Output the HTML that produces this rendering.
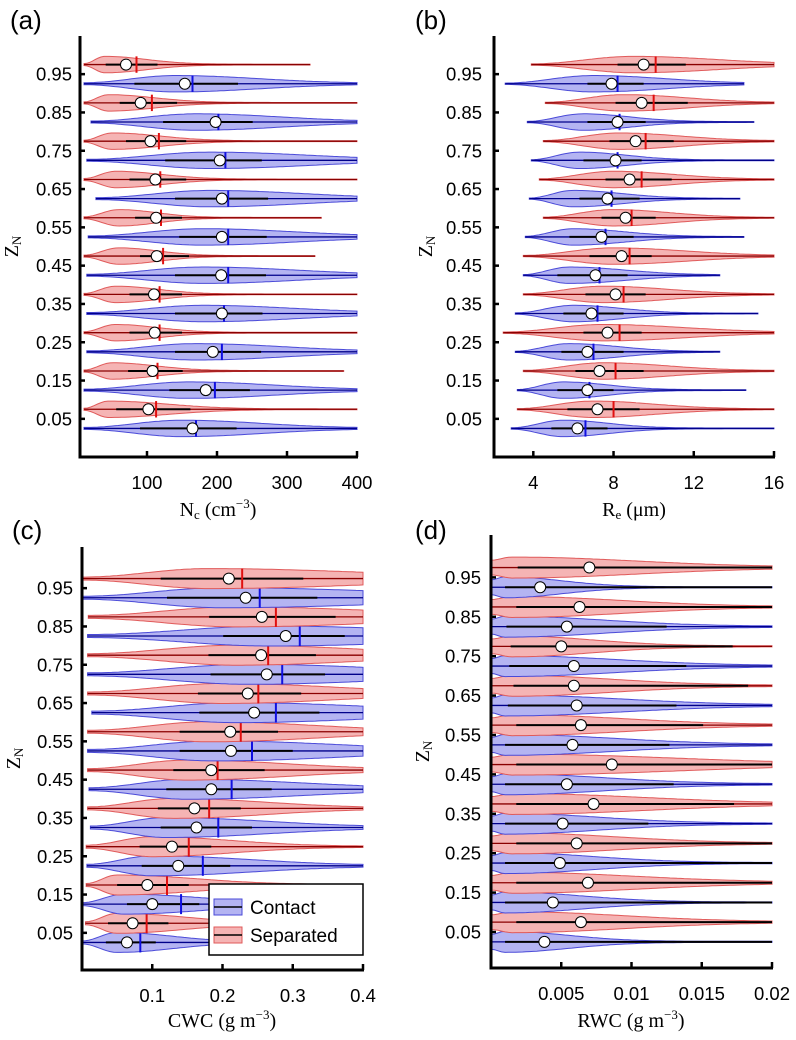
<!DOCTYPE html>
<html><head><meta charset="utf-8"><style>
html,body{margin:0;padding:0;background:#fff}
svg{display:block}
text{font-family:"Liberation Sans",Arial,sans-serif;fill:#000}
.tk{font-size:18.5px}
.ttl{font-family:"Liberation Serif",serif;font-size:20px}
.pl{font-size:26px}
</style></head><body>
<svg id="fig" width="796" height="1040" viewBox="0 0 796 1040"></svg>
<script>
// z-levels: index even = Contact, odd = Separated
const zLevels=[0.025,0.075,0.125,0.175,0.225,0.275,0.325,0.375,0.425,0.475,0.525,0.575,0.625,0.675,0.725,0.775,0.825,0.875,0.925,0.975];
const yTicks=[0.05,0.15,0.25,0.35,0.45,0.55,0.65,0.75,0.85,0.95];
const yTickLabels=["0.05","0.15","0.25","0.35","0.45","0.55","0.65","0.75","0.85","0.95"];
// Panel a: Nc
const aMin=[10,10,10,10,14,10,14,10,14,10,16,10,27,10,14,10,20,10,10,10];
const aQ1=[90,56,132,73,140,75,140,75,140,90,146,83,140,75,126,70,123,61,82,41];
const aMed=[170,113,197,115,207,118,210,118,216,123,216,120,216,119,212,117,202,107,165,85];
const aMean=[165,102,184,108,194,111,207,110,206,114,207,113,207,112,204,105,198,91,154,70];
const aQ3=[228,162,247,151,263,150,265,150,270,160,271,150,273,156,264,156,251,143,230,115];
const aMax=[400,400,400,381,400,400,400,400,400,340,400,349,400,400,400,400,400,400,400,333];
const aMode=[150,45,160,50,170,55,180,55,180,60,180,60,190,55,190,50,170,45,140,40];
const aTicks=[100,200,300,400];
const aTickLabels=["100","200","300","400"];
// Panel b: Re
const bMin=[2.9,3.2,3.2,3.5,3.1,2.5,3.1,3.5,3.5,3.5,3.6,4.5,3.8,4.3,3.9,4.5,3.7,4.6,2.6,3.9];
const bQ1=[4.9,5.7,5.2,6.1,5.4,6.5,5.5,6.6,5.2,6.8,5.8,7.4,6.3,7.6,6.5,7.8,6.7,8.1,6.7,8.2];
const bMed=[6.6,8.0,6.8,8.1,7.0,8.3,7.2,8.5,7.3,8.8,7.6,8.9,7.9,9.4,8.2,9.6,8.3,10.0,8.2,10.1];
const bMean=[6.2,7.2,6.7,7.3,6.7,7.7,6.9,8.1,7.1,8.4,7.4,8.6,7.7,8.8,8.1,9.1,8.2,9.4,7.9,9.5];
const bQ3=[7.7,9.3,8.0,9.5,8.5,9.4,8.5,9.6,8.7,9.9,9.0,10.1,9.3,10.9,9.4,11.0,9.6,11.7,9.5,11.6];
const bMax=[16,16,14.6,16,13.3,16,15.2,16,13.3,16,14.5,16,14.3,16,16,16,15.0,16,14.5,16];
const bMode=[5.5,7,5.5,7.5,5.8,7.5,6,7.5,5.8,8,6,8,6,8,6.3,8.3,6.5,8.5,7,9];
const bTicks=[4,8,12,16];
const bTickLabels=["4","8","12","16"];
// Panel c: CWC
const cMin=[0,0.005,0,0.006,0.007,0.006,0.012,0.008,0.01,0.008,0.008,0.008,0.014,0.008,0.008,0.008,0.008,0.009,0,0];
const cQ1=[0.034,0.037,0.064,0.050,0.085,0.082,0.112,0.108,0.12,0.13,0.139,0.139,0.167,0.165,0.183,0.180,0.201,0.181,0.121,0.112];
const cMed=[0.083,0.092,0.141,0.121,0.172,0.152,0.194,0.181,0.213,0.193,0.242,0.226,0.276,0.251,0.285,0.265,0.310,0.276,0.253,0.228];
const cMean=[0.064,0.072,0.100,0.093,0.137,0.128,0.163,0.160,0.184,0.184,0.212,0.211,0.245,0.236,0.263,0.255,0.290,0.256,0.233,0.209];
const cQ3=[0.105,0.123,0.167,0.152,0.211,0.184,0.242,0.226,0.27,0.26,0.300,0.279,0.338,0.312,0.346,0.333,0.374,0.361,0.335,0.315];
const cMax=[0.4,0.4,0.4,0.4,0.4,0.4,0.4,0.4,0.4,0.4,0.4,0.4,0.4,0.4,0.4,0.4,0.4,0.4,0.4,0.4];
const cMode=[0.05,0.05,0.06,0.05,0.1,0.1,0.12,0.13,0.15,0.15,0.19,0.18,0.22,0.2,0.24,0.22,0.27,0.22,0.2,0.18];
const cTicks=[0.1,0.2,0.3,0.4];
const cTickLabels=["0.1","0.2","0.3","0.4"];
// Panel d: RWC
const dMin=[0,0,0,0,0,0,0,0,0,0,0,0,0,0,0,0,0,0,0,0];
const dQ1=[0.0010,0.0018,0.0010,0.0018,0.0010,0.0018,0.0010,0.0018,0.0010,0.0018,0.0010,0.0018,0.0012,0.0016,0.0013,0.0014,0.0011,0.0018,0.0010,0.0019];
const dMed=[0.002,0.003,0.002,0.003,0.002,0.003,0.002,0.003,0.002,0.003,0.002,0.003,0.002,0.003,0.002,0.003,0.002,0.003,0.002,0.003];
const dMean=[0.0038,0.0064,0.0044,0.0069,0.0049,0.0061,0.0051,0.0073,0.0054,0.0086,0.0058,0.0064,0.0061,0.0059,0.0059,0.0050,0.0054,0.0063,0.0035,0.0070];
const dQ3=[0.02,0.02,0.02,0.02,0.02,0.02,0.0112,0.0173,0.013,0.02,0.0127,0.0151,0.0132,0.0183,0.0139,0.0172,0.0125,0.02,0.02,0.02];
const dMax=[0.02,0.02,0.02,0.02,0.02,0.02,0.02,0.02,0.02,0.02,0.02,0.02,0.02,0.02,0.02,0.02,0.02,0.02,0.02,0.02];
const dMode=[0.0010,0.0015,0.0010,0.0015,0.0010,0.0015,0.0010,0.0015,0.0010,0.0015,0.0010,0.0015,0.0010,0.0015,0.0010,0.0015,0.0010,0.0015,0.0010,0.0015];
const dTicks=[0.005,0.01,0.015,0.02];
const dTickLabels=["0.005","0.01","0.015","0.02"];

const NS="http://www.w3.org/2000/svg";
const svg=document.getElementById('fig');
function mk(tag,attrs,parent,txt){const e=document.createElementNS(NS,tag);for(const k in attrs)e.setAttribute(k,attrs[k]);if(txt!==undefined)e.textContent=txt;(parent||svg).appendChild(e);return e;}

const panels=[
 {id:'a',label:'(a)',lx:10,ly:29,x0:80,x1:357,vmin:4.3,vmax:400,yTop:36,yBot:457,z0:438,zU:383,labX:72,
  min:aMin,q1:aQ1,med:aMed,mean:aMean,q3:aQ3,max:aMax,mode:aMode,ticks:aTicks,tl:aTickLabels,W:8.2,startW:0.12,sdF:0.8,showMed:true,
  title:['N','c',' (cm','−3',')'],tx:218,ty:516},
 {id:'b',label:'(b)',lx:415,ly:29,x0:494,x1:774,vmin:2.04,vmax:16,yTop:36,yBot:457,z0:438,zU:383,labX:482,
  min:bMin,q1:bQ1,med:bMed,mean:bMean,q3:bQ3,max:bMax,mode:bMode,ticks:bTicks,tl:bTickLabels,W:8.2,startW:0.08,sdF:0.8,showMed:true,
  title:['R','e',' (μm)'],tx:634,ty:516},
 {id:'c',label:'(c)',lx:12,ly:539,x0:82,x1:363,vmin:0,vmax:0.4,yTop:547,yBot:970,z0:952,zU:383,labX:73,
  min:cMin,q1:cQ1,med:cMed,mean:cMean,q3:cQ3,max:cMax,mode:cMode,ticks:cTicks,tl:cTickLabels,W:10,startW:0.15,sdF:1.1,showMed:true,
  title:['CWC (g m','−3',')'],tx:222,ty:1027},
 {id:'d',label:'(d)',lx:415,ly:539,x0:491,x1:772,vmin:0,vmax:0.02,yTop:535,yBot:968,z0:951.7,zU:394,labX:481,
  min:dMin,q1:dQ1,med:dMed,mean:dMean,q3:dQ3,max:dMax,mode:dMode,ticks:dTicks,tl:dTickLabels,W:10.5,startW:0.7,sdF:-1,showMed:false,
  title:['RWC (g m','−3',')'],tx:631,ty:1027}
];

panels.forEach(p=>{
 const g=mk('g',{});
 
 
 const X=v=>p.x0+(v-p.vmin)/(p.vmax-p.vmin)*(p.x1-p.x0);
 const Y=z=>p.z0-z*p.zU;
 const pl=mk('text',{x:p.lx,y:p.ly,class:'pl'},g,p.label);
 
 
 zLevels.forEach((z,i)=>{
  const contact=i%2===0;
  const fill=contact?'#b4b4f2':'#f5b4b4', stroke=contact?'#4a4ad8':'#e05a5a', dark=contact?'#00008a':'#8a0000', medc=contact?'#1010e0':'#e01010';
  const vg=mk('g',{},g);
  
  
  const mn=p.min[i],mx=p.max[i],mo=p.mode[i];
  const sd=p.sdF>0?Math.max((p.q3[i]-p.q1[i])*p.sdF,(mo-mn)*0.8):(p.mean[i]-mo)*1.6;
  const N=80,yc=Y(z),top=[],bot=[];
  for(let k=0;k<=N;k++){
   const v=mn+(mx-mn)*k/N;let w;
   if(v<=mo){const t=(v-mn)/Math.max(mo-mn,1e-9);w=p.startW+(1-p.startW)*Math.pow(Math.sin(Math.PI/2*t),2);}
   else{w=0.05+0.95*Math.exp(-0.5*Math.pow((v-mo)/sd,2));}
   top.push([X(v),yc-w*p.W]);bot.push([X(v),yc+w*p.W]);
  }
  const pts=top.concat(bot.reverse()).map(q=>q[0].toFixed(1)+','+q[1].toFixed(1)).join(' ');
  const body=mk('polygon',{points:pts,fill:fill,stroke:stroke,'stroke-width':1},vg);
  
  
  const cl=mk('line',{x1:X(mn),x2:X(mx),y1:yc,y2:yc,stroke:dark,'stroke-width':1.3},vg);
  
  
  const iq=mk('line',{x1:X(p.q1[i]),x2:X(Math.min(p.q3[i],p.vmax)),y1:yc,y2:yc,stroke:'#000','stroke-width':2},vg);
  
  
  if(p.showMed){
   const md=mk('line',{x1:X(p.med[i]),x2:X(p.med[i]),y1:yc-p.W,y2:yc+p.W,stroke:medc,'stroke-width':2},vg);
   
   
  }
  const c=mk('circle',{cx:X(p.mean[i]),cy:yc,r:5.5,fill:'#fff',stroke:'#000','stroke-width':1},vg);
  
  
 });
 const ya=mk('line',{x1:p.x0,x2:p.x0,y1:p.yTop,y2:p.yBot+1.5,stroke:'#000','stroke-width':3},g);
 
 
 const xa=mk('line',{x1:p.x0-1.5,x2:p.x1+1,y1:p.yBot,y2:p.yBot,stroke:'#000','stroke-width':3},g);
 
 
 yTicks.forEach((t,k)=>{
  mk('line',{x1:p.x0,x2:p.x0+5,y1:Y(t),y2:Y(t),stroke:'#000','stroke-width':2.5},g);
  const tl=mk('text',{x:p.labX,y:Y(t)+6.5,class:'tk','text-anchor':'end'},g,yTickLabels[k]);
  
  
 });
 p.ticks.forEach((t,k)=>{
  mk('line',{x1:X(t),x2:X(t),y1:p.yBot,y2:p.yBot-6,stroke:'#000','stroke-width':2.5},g);
  const tl=mk('text',{x:X(t),y:p.yBot+32,class:'tk','text-anchor':'middle'},g,p.tl[k]);
  
  
 });
 const tt=mk('text',{x:p.tx,y:p.ty,class:'ttl','text-anchor':'middle'},g);
 
 
 p.title.forEach((s,k)=>{
  const isSub=(p.id==='a'||p.id==='b')&&k===1;
  const isSup=s==='−3';
  const ts=mk('tspan',{},tt,s);
  if(isSub){ts.setAttribute('font-size','13');ts.setAttribute('dy','3');}
  else if(isSup){ts.setAttribute('font-size','13');ts.setAttribute('dy','-8');}
  else if(k>0){ts.setAttribute('dy',(p.title[k-1]==='−3')?'8':((p.id==='a'||p.id==='b')&&k===2?'-3':'0'));}
 });
 const yc=(p.yTop+p.yBot)/2;
 const yt=mk('text',{x:0,y:0,class:'ttl',transform:'translate('+(p.x0-62)+','+yc+') rotate(-90)','text-anchor':'middle'},g);
 
 
 mk('tspan',{},yt,'Z');
 mk('tspan',{'font-size':'13',dy:'3'},yt,'N');
});

const lg=mk('g',{});


mk('rect',{x:209,y:884,width:154,height:71,fill:'#fff',stroke:'#000','stroke-width':1.5},lg);
[['Contact','#b4b4f2','#4a4ad8',907],['Separated','#f5b4b4','#e05a5a',935]].forEach(e=>{
 const eg=mk('g',{},lg);
 
 
 mk('rect',{x:214,y:e[3]-8,width:28,height:16,fill:e[1],stroke:e[2],'stroke-width':1},eg);
 mk('line',{x1:214,x2:242,y1:e[3],y2:e[3],stroke:'#000','stroke-width':1.5},eg);
 mk('text',{x:250,y:e[3]+7,'font-size':'19'},eg,e[0]);
});
</script>
</body></html>
